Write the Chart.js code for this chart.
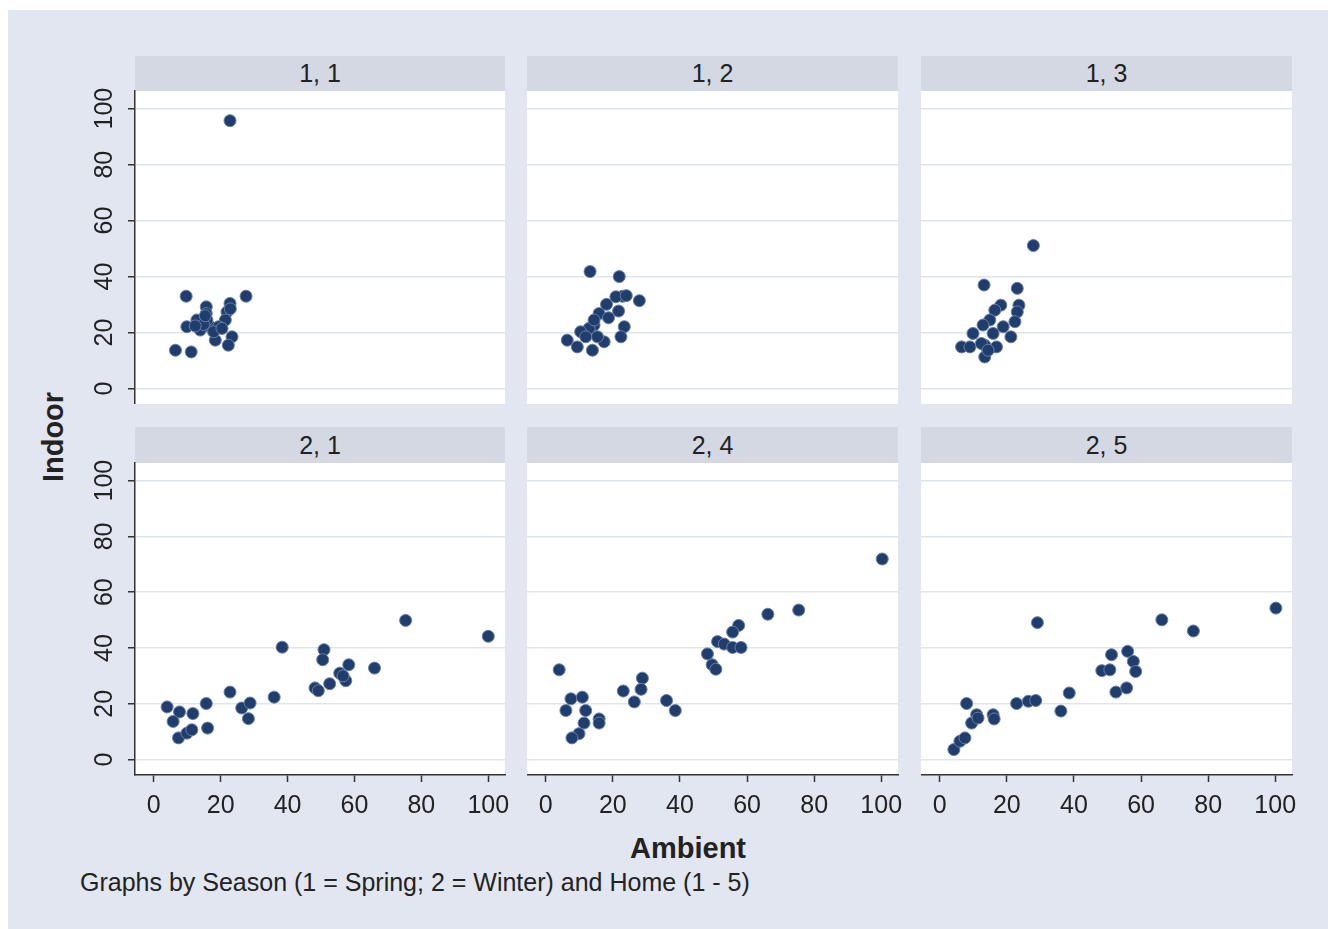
<!DOCTYPE html>
<html>
<head>
<meta charset="utf-8">
<title>Indoor vs Ambient</title>
<script src="https://cdn.jsdelivr.net/npm/chart.js@4.4.1/dist/chart.umd.min.js"></script>
<style>
  body { margin: 0; background: #fff; }
  #page { position: relative; width: 1328px; height: 929px; overflow: hidden;
          font-family: "Liberation Sans", Arial, sans-serif; color: #222; }
  #bg { position: absolute; left: 8px; top: 10px; right: 0; bottom: 0; background: #e1e6f0; }
  .strip { position: absolute; background: #d3d8e2; text-align: center; font-size: 25px; }
  canvas { position: absolute; }
  .title { position: absolute; font-weight: bold; font-size: 29px; white-space: nowrap; }
  #ytitle { left: 53px; top: 437px; transform: translate(-50%, -50%) rotate(-90deg); }
  #xtitle { left: 688px; top: 848px; transform: translate(-50%, -50%); }
  #note { position: absolute; left: 80px; top: 882px; transform: translateY(-50%);
          font-size: 25px; white-space: nowrap; }
</style>
</head>
<body>
<div id="page">
  <div id="bg"></div>
  <div class="title" id="ytitle">Indoor</div>
  <div class="title" id="xtitle">Ambient</div>
  <div id="note">Graphs by Season (1 = Spring; 2 = Winter) and Home (1 - 5)</div>
</div>
<script>
const panelLabels = ['1, 1', '1, 2', '1, 3', '2, 1', '2, 4', '2, 5'];
const xTicks = [0, 20, 40, 60, 80, 100];
const yTicks = [0, 20, 40, 60, 80, 100];

// Season 1 (Spring)
const ambient11 = [22.8, 9.7, 27.6, 22.8, 15.7, 21.9, 15.7, 21.4, 12.9, 9.9, 13.9, 16.9, 19.4, 15.9, 18.4, 23.4, 22.3, 6.5, 11.2, 14.9, 17.9, 20.4, 15.4, 22.9, 12.4];
const indoor11  = [95.7, 33.0, 33.0, 30.4, 29.2, 27.4, 26.8, 24.5, 24.5, 22.1, 20.9, 22.1, 22.1, 24.5, 17.3, 18.5, 15.5, 13.7, 13.1, 22.9, 20.3, 21.5, 26.0, 28.5, 22.4];

const ambient12 = [13.2, 21.9, 22.9, 20.9, 27.9, 18.1, 21.7, 15.9, 18.7, 14.4, 12.9, 10.4, 23.4, 22.4, 6.4, 9.4, 13.9, 17.4, 15.4, 11.9, 14.4, 24.0];
const indoor12  = [41.8, 40.0, 33.0, 32.8, 31.4, 30.1, 27.7, 26.8, 25.3, 22.7, 21.5, 20.3, 22.1, 18.5, 17.3, 14.9, 13.7, 16.7, 18.5, 18.5, 24.5, 33.2];

const ambient13 = [27.9, 13.2, 23.1, 23.6, 18.2, 16.4, 23.1, 14.9, 22.4, 12.9, 18.9, 15.9, 9.9, 21.2, 6.5, 9.0, 13.4, 16.9, 13.4, 12.4, 14.4];
const indoor13  = [51.1, 37.0, 35.8, 29.8, 29.8, 28.0, 27.4, 24.5, 23.9, 22.7, 22.1, 19.7, 19.7, 18.5, 14.9, 14.9, 15.5, 14.9, 11.3, 16.1, 13.7];

// Season 2 (Winter)
const ambient21 = [4.0, 7.7, 5.8, 11.7, 15.7, 16.1, 7.4, 9.9, 11.4, 22.8, 26.3, 28.8, 28.3, 36.0, 38.4, 48.2, 49.2, 50.9, 50.5, 52.6, 55.6, 57.4, 58.3, 66.0, 75.3, 100.0, 56.6];
const indoor21  = [18.9, 17.1, 13.7, 16.5, 20.1, 11.3, 7.8, 9.5, 10.7, 24.2, 18.5, 20.3, 14.7, 22.4, 40.3, 25.7, 24.7, 39.4, 35.8, 27.2, 31.0, 28.3, 34.0, 32.8, 49.9, 44.2, 30.0];

const ambient24 = [4.0, 100.3, 66.2, 75.4, 57.5, 55.7, 51.2, 53.2, 55.7, 58.2, 48.2, 49.6, 50.7, 28.8, 28.4, 23.1, 26.4, 36.0, 38.6, 7.5, 10.9, 6.0, 11.9, 15.9, 15.9, 11.4, 9.9, 7.8];
const indoor24  = [32.2, 71.9, 52.1, 53.6, 48.1, 45.7, 42.3, 41.4, 40.2, 40.2, 37.9, 34.0, 32.4, 29.2, 25.2, 24.6, 20.7, 21.2, 17.6, 21.8, 22.4, 17.6, 17.6, 14.6, 13.1, 13.1, 9.3, 7.8];

const ambient25 = [4.2, 6.0, 7.5, 8.0, 9.5, 11.0, 11.4, 15.9, 16.2, 22.9, 26.4, 28.6, 29.1, 36.1, 38.6, 48.3, 50.7, 51.2, 52.5, 55.7, 56.0, 57.7, 58.4, 66.2, 75.6, 100.2];
const indoor25  = [3.6, 6.6, 7.8, 20.1, 13.1, 16.1, 14.9, 16.1, 14.6, 20.1, 20.9, 21.2, 49.1, 17.4, 23.9, 31.9, 32.2, 37.6, 24.2, 25.7, 38.8, 35.2, 31.6, 50.1, 46.1, 54.3];

const panelAmbient = [ambient11, ambient12, ambient13, ambient21, ambient24, ambient25];
const panelIndoor = [indoor11, indoor12, indoor13, indoor21, indoor24, indoor25];

// panel geometry
const colLeft = [135, 527, 921];
const colRight = [505, 898, 1292];
const rowTop = [91, 463];
const rowBottom = [404, 775];
const stripTop = [56, 427];

Chart.defaults.font.family = '"Liberation Sans", Arial, sans-serif';

const plotBackground = {
    id: 'plotBackground',
    beforeDraw(chart) {
        const a = chart.chartArea;
        const ctx = chart.ctx;
        ctx.save();
        ctx.fillStyle = '#ffffff';
        ctx.fillRect(a.left, a.top, a.right - a.left, a.bottom - a.top);
        ctx.restore();
    }
};

const page = document.getElementById('page');

for (let i = 0; i < panelLabels.length; i++) {
    const r = Math.floor(i / 3);
    const c = i % 3;
    const left = colLeft[c], right = colRight[c];
    const top = rowTop[r], bottom = rowBottom[r];

    const strip = document.createElement('div');
    strip.className = 'strip';
    strip.style.left = left + 'px';
    strip.style.top = stripTop[r] + 'px';
    strip.style.width = (right - left) + 'px';
    strip.style.height = (top - stripTop[r]) + 'px';
    strip.style.lineHeight = (top - stripTop[r]) + 'px';
    strip.textContent = panelLabels[i];
    page.appendChild(strip);

    // extra room round the plot area for the axes and their labels
    const padLeft = c == 0 ? 70 : 0;
    const padRight = r == 1 ? 14 : 0;
    const padTop = 20;
    const axisH = r == 1 ? 56 : 0;
    const canvas = document.createElement('canvas');
    canvas.width = right - left + padLeft + padRight;
    canvas.height = bottom - top + axisH + padTop;
    canvas.style.left = (left - padLeft) + 'px';
    canvas.style.top = (top - padTop) + 'px';
    page.appendChild(canvas);

    const xs = panelAmbient[i];
    const ys = panelIndoor[i];

    new Chart(canvas, {
        type: 'scatter',
        data: {
            datasets: [{
                data: xs.map((x, k) => ({ x: x, y: ys[k] })),
                pointRadius: 6,
                pointHoverRadius: 6,
                backgroundColor: '#1f3d6d',
                borderColor: '#6a7ea3',
                borderWidth: 1
            }]
        },
        options: {
            responsive: false,
            animation: false,
            events: [],
            layout: { autoPadding: false, padding: { left: c == 0 ? 10 : 0, right: padRight, top: padTop, bottom: 0 } },
            plugins: { legend: { display: false }, tooltip: { enabled: false } },
            scales: {
                x: {
                    type: 'linear', min: -5.6, max: 105,
                    display: r == 1,
                    afterBuildTicks: s => { s.ticks = xTicks.map(v => ({ value: v })); },
                    afterFit: s => { s.height = axisH; s.paddingLeft = 0; s.paddingRight = 0; },
                    grid: { drawOnChartArea: false, tickLength: 7, tickColor: '#333', tickWidth: 1.5 },
                    border: { display: true, color: '#333', width: 1.5 },
                    ticks: { font: { size: 25 }, color: '#222', padding: 9, maxRotation: 0, autoSkip: false }
                },
                y: {
                    type: 'linear', min: -5.5, max: 106.3,
                    afterBuildTicks: s => { s.ticks = yTicks.map(v => ({ value: v })); },
                    afterFit: s => { s.width = c == 0 ? 60 : 0; s.paddingTop = 0; s.paddingBottom = 0; },
                    grid: { color: '#dfe5ef', lineWidth: 1.5, drawTicks: c == 0, tickLength: 7, tickColor: '#333', tickWidth: 1.5 },
                    border: { display: c == 0, color: '#333', width: 1.5 },
                    ticks: { display: c == 0, font: { size: 25 }, color: '#222', minRotation: 90, maxRotation: 90, crossAlign: 'center', padding: 2 }
                }
            }
        },
        plugins: [plotBackground]
    });
}
</script>
</body>
</html>
